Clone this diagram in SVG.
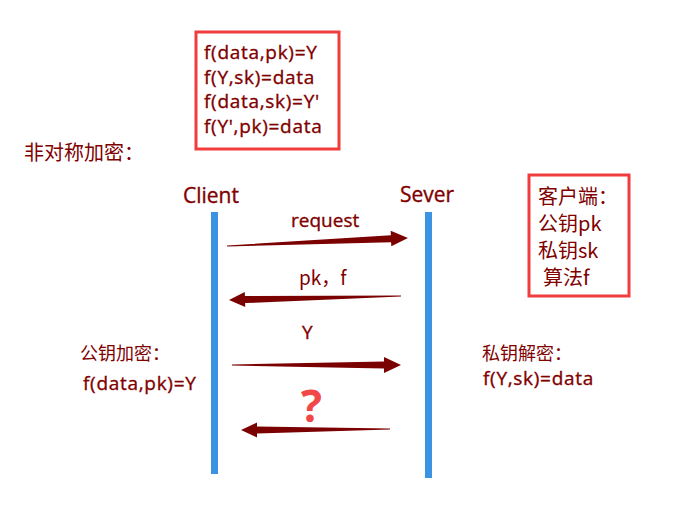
<svg xmlns="http://www.w3.org/2000/svg" width="686" height="523" viewBox="0 0 686 523">
<style>
.t{font-family:"Open Sans","Noto Sans CJK SC",sans-serif;fill:#800000;font-size:19px;stroke:#800000;stroke-width:0.35px}
.f{letter-spacing:0.7px}
.c{font-family:"Noto Sans CJK SC",sans-serif;fill:#800000;font-size:20px}
.box{fill:none;stroke:#f03c3c;stroke-width:3}
.life{fill:#3a94e2}
.arr{fill:#7b0000}
</style>
<rect width="686" height="523" fill="#ffffff"/>
<g id="formulas">
<rect class="box" x="196" y="32" width="143" height="117"/>
<text class="t f" x="204" y="59">f(data,pk)=Y</text>
<text class="t f" x="204" y="84">f(Y,sk)=data</text>
<text class="t f" x="204" y="108">f(data,sk)=Y'</text>
<text class="t f" x="204" y="133">f(Y',pk)=data</text>
</g>
<g id="title"><text class="c" x="24" y="160">非对称加密：</text></g>
<g id="client">
<text class="t" x="183" y="203" style="font-size:21px">Client</text>
<rect class="life" x="211" y="212" width="7" height="262"/>
</g>
<g id="server">
<text class="t" x="400" y="202" style="font-size:21px">Sever</text>
<rect class="life" x="425" y="212" width="7" height="266"/>
</g>
<g id="keys">
<rect class="box" x="529" y="175" width="100" height="121"/>
<text class="c" x="538" y="204">客户端：</text>
<text class="c" x="538" y="231">公钥pk</text>
<text class="c" x="538" y="258">私钥sk</text>
<text class="c" x="543" y="285">算法f</text>
</g>
<g id="client-note">
<text class="c" x="80" y="360" style="font-size:18px">公钥加密：</text>
<text class="t f" x="83" y="390">f(data,pk)=Y</text>
</g>
<g id="server-note">
<text class="c" x="482" y="360" style="font-size:18px">私钥解密：</text>
<text class="t f" x="483" y="385">f(Y,sk)=data</text>
</g>
<g id="connectors">
<polygon class="arr" points="227,245.5 390.9,235.3 390.7,230.8 408,238 391.3,246.2 391.1,242.3 227,246.5"/>
<text class="t" x="291" y="227">request</text>
<polygon class="arr" points="401,295.5 244.9,296.1 244.8,292.1 229,300 245.2,307.1 245.1,303.1 401,296.5"/>
<text class="c" x="299" y="285" style="font-size:19px">pk，f</text>
<polygon class="arr" points="232,364.5 384,361.5 384,357 401,365 384,373 384,368.5 232,365.5"/>
<text class="t" x="302" y="339">Y</text>
<polygon class="arr" points="390,428.5 257,426.5 257,422.5 241,430 257,437.5 257,433.5 390,429.5"/>
<text x="301" y="422" style="font-family:'Open Sans',sans-serif;font-size:44px;font-weight:bold;fill:#f04848">?</text>
</g>
</svg>
